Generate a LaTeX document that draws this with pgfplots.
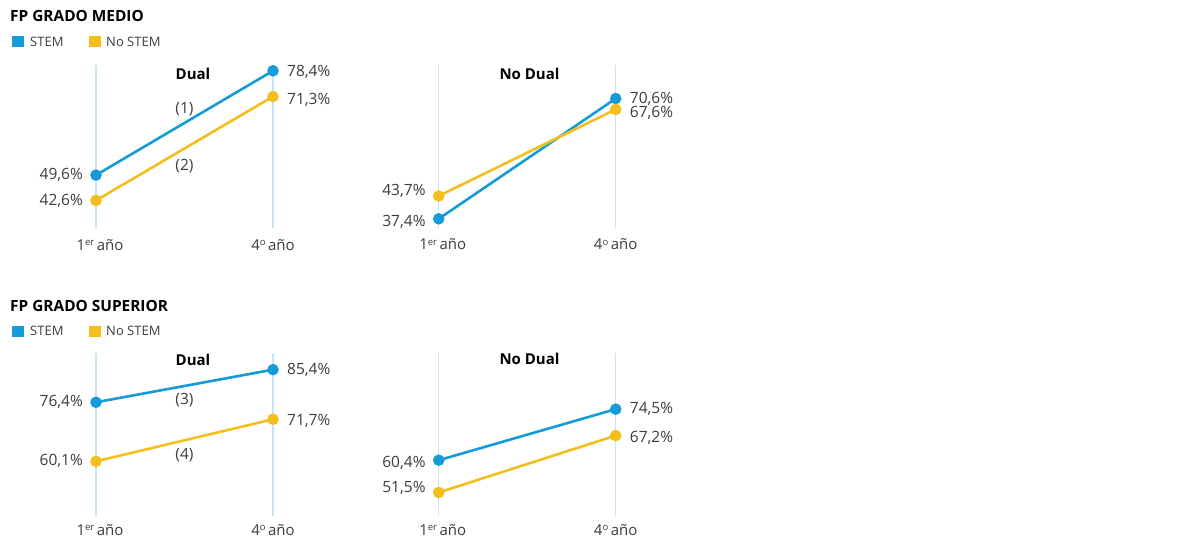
\documentclass[border=0pt]{standalone}
\usepackage{pgfplots}
\pgfplotsset{compat=1.18}
\usepackage{fontspec}
\setmainfont{Open Sans}
\definecolor{stem}{HTML}{159BD7}
\definecolor{nostem}{HTML}{F4BE1C}
\definecolor{gridc}{HTML}{C5E6F6}
\definecolor{txt}{HTML}{3C3C3C}

\newcommand{\vfont}{\fontsize{15.5}{18}\selectfont}
\newcommand{\supr}[1]{\raisebox{4.5pt}{\fontsize{9.5}{10}\selectfont #1}}
\pgfplotsset{panel/.style={
  scale only axis, width=177pt, height=163pt, xmin=0, xmax=1,
  axis lines=left, axis line style={draw=none}, major tick length=0pt,
  xtick={0,1}, xticklabels={\hspace*{8pt}1\supr{er}\,año, 4\supr{o}\,año}, ytick=\empty,
  xmajorgrids, grid style={gridc, line width=1.2pt},
  x tick label style={font=\fontsize{15}{18}\selectfont, text=txt, anchor=center, yshift=-17pt},
  clip=false,
  anchor=south west,
}}
\tikzset{
  stemline/.style={stem, line width=2.6pt, mark=*, mark size=4.4pt, mark options={fill=stem, draw=none}},
  nostemline/.style={nostem, line width=2.6pt, mark=*, mark size=4.4pt, mark options={fill=nostem, draw=none}},
  vl/.style={font=\vfont, text=txt, anchor=east, xshift=-13pt, inner sep=0pt},
  vr/.style={font=\vfont, text=txt, anchor=west, xshift=14pt, inner sep=0pt},
  ptitle/.style={font=\fontsize{15}{18}\selectfont\bfseries, text=black},
  ann/.style={font=\vfont, text=txt},
}

\begin{document}
\begin{tikzpicture}
\path (0pt,0pt) rectangle (1180pt,-545pt);

% ---------- FP GRADO MEDIO ----------
\node[anchor=west, font=\fontsize{15.4}{18}\selectfont\bfseries, inner sep=0pt] at (10pt,-16pt) {FP GRADO MEDIO};
\fill[stem] (12pt,-36pt) rectangle (23.5pt,-47.5pt);
\node[anchor=west, font=\fontsize{13}{15}\selectfont, text=txt, inner sep=0pt] at (30pt,-41.5pt) {STEM};
\fill[nostem] (89pt,-36pt) rectangle (100.5pt,-47.5pt);
\node[anchor=west, font=\fontsize{13}{15}\selectfont, text=txt, inner sep=0pt] at (106pt,-41.5pt) {No STEM};

\begin{axis}[panel, at={(96pt,-228pt)}, ymin=35, ymax=80]
\addplot[stemline] coordinates {(0,49.6) (1,78.4)};
\addplot[nostemline] coordinates {(0,42.6) (1,71.3)};
\node[ptitle] at (rel axis cs:0.548,0.945) {Dual};
\node[ann] at (axis cs:0.5,67.85) {(1)};
\node[ann] at (axis cs:0.5,52.1) {(2)};
\node[vl] at (axis cs:0,49.6) {49,6\%};
\node[vl] at (axis cs:0,42.6) {42,6\%};
\node[vr, yshift=-1pt] at (axis cs:1,78.4) {78,4\%};
\node[vr, yshift=-3pt] at (axis cs:1,71.3) {71,3\%};
\end{axis}

\begin{axis}[panel, at={(438.7pt,-227.5pt)}, ymin=35, ymax=80]
\addplot[stemline] coordinates {(0,37.4) (1,70.6)};
\addplot[nostemline] coordinates {(0,43.7) (1,67.6)};
\node[ptitle] at (rel axis cs:0.513,0.945) {No Dual};
\node[vl, yshift=5pt] at (axis cs:0,43.7) {43,7\%};
\node[vl, yshift=-3pt] at (axis cs:0,37.4) {37,4\%};
\node[vr] at (axis cs:1,70.6) {70,6\%};
\node[vr, yshift=-3pt] at (axis cs:1,67.6) {67,6\%};
\end{axis}

% ---------- FP GRADO SUPERIOR ----------
\node[anchor=west, font=\fontsize{15.4}{18}\selectfont\bfseries, inner sep=0pt] at (10pt,-306pt) {FP GRADO SUPERIOR};
\fill[stem] (12pt,-325.5pt) rectangle (23.5pt,-337pt);
\node[anchor=west, font=\fontsize{13}{15}\selectfont, text=txt, inner sep=0pt] at (30pt,-331pt) {STEM};
\fill[nostem] (89pt,-325.5pt) rectangle (100.5pt,-337pt);
\node[anchor=west, font=\fontsize{13}{15}\selectfont, text=txt, inner sep=0pt] at (106pt,-331pt) {No STEM};

\begin{axis}[panel, at={(96pt,-516pt)}, ymin=45, ymax=90, x tick label style={yshift=3pt}]
\addplot[stemline] coordinates {(0,76.4) (1,85.4)};
\addplot[nostemline] coordinates {(0,60.1) (1,71.7)};
\node[ptitle] at (rel axis cs:0.548,0.96) {Dual};
\node[ann] at (axis cs:0.5,76.9) {(3)};
\node[ann] at (axis cs:0.5,61.8) {(4)};
\node[vl] at (axis cs:0,76.4) {76,4\%};
\node[vl] at (axis cs:0,60.1) {60,1\%};
\node[vr] at (axis cs:1,85.4) {85,4\%};
\node[vr, yshift=-2pt] at (axis cs:1,71.7) {71,7\%};
\end{axis}

\begin{axis}[panel, at={(438.7pt,-516pt)}, ymin=45, ymax=90, x tick label style={yshift=3pt}]
\addplot[stemline] coordinates {(0,60.4) (1,74.5)};
\addplot[nostemline] coordinates {(0,51.5) (1,67.2)};
\node[ptitle] at (rel axis cs:0.513,0.965) {No Dual};
\node[vl, yshift=-3pt] at (axis cs:0,60.4) {60,4\%};
\node[vl, yshift=5pt] at (axis cs:0,51.5) {51,5\%};
\node[vr] at (axis cs:1,74.5) {74,5\%};
\node[vr, yshift=-2.5pt] at (axis cs:1,67.2) {67,2\%};
\end{axis}
\end{tikzpicture}
\end{document}
